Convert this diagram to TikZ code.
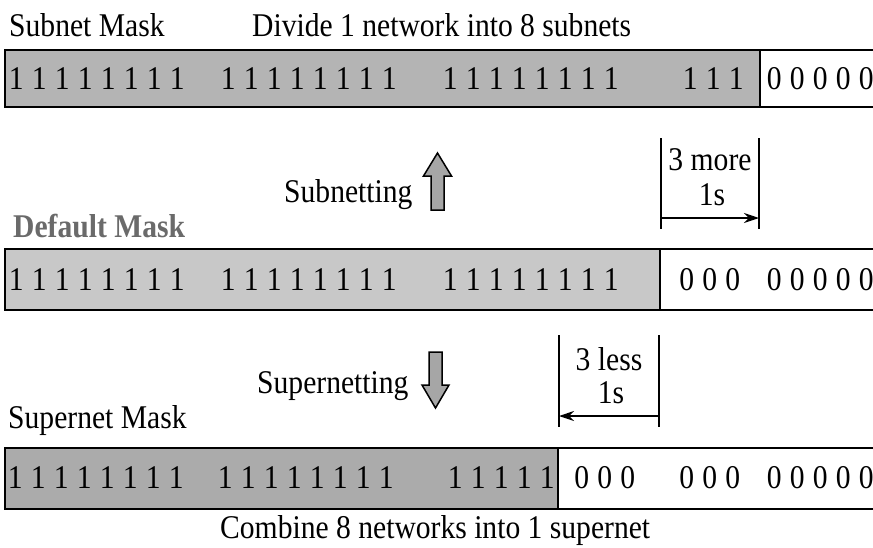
\documentclass[tikz,border=0pt]{standalone}
\usepackage{fontspec}
\setmainfont{Liberation Serif}
\usetikzlibrary{arrows.meta}
\definecolor{barA}{HTML}{B4B4B4}
\definecolor{barB}{HTML}{C8C8C8}
\definecolor{barC}{HTML}{ABABAB}
\definecolor{arrowfill}{HTML}{A6A6A6}
\definecolor{dimtext}{HTML}{6A6A6A}
\newcommand\vst[1]{\scalebox{1}[1.12]{#1}}
\newcommand\spreaddigits[1]{\spreadaux#1\relax}
\def\spreadaux#1{\ifx#1\relax\else\makebox[23pt]{#1}\expandafter\spreadaux\fi}
\newcommand\dgs[1]{\vst{\spreaddigits{#1}}}
\tikzset{
  txt/.style={font=\fontsize{29.6}{34}\selectfont, inner sep=0pt, anchor=base west},
  ctxt/.style={font=\fontsize{29.6}{34}\selectfont, inner sep=0pt, anchor=base},
  digs/.style={font=\fontsize{29.6}{34}\selectfont, inner sep=0pt, anchor=west},
  barline/.style={line width=1.6pt, black},
  brline/.style={line width=1.4pt, black},
  brarrow/.style={line width=1.3pt, black, -{Stealth[length=15pt,width=10pt]}},
  blockarrow/.style={fill=arrowfill, draw=black, line width=1.5pt, line join=miter}
}
\begin{document}
\begin{tikzpicture}[x=1pt,y=-1pt]
\useasboundingbox (0,0) rectangle (873,547);
\fill[white] (0,0) rectangle (873,547);
\clip (0,0) rectangle (873,547);

% ---------- Bar 1 : subnet mask ----------
\fill[barA] (5,50) rectangle (760,107);
\draw[barline] (880,50) -- (5,50) -- (5,107) -- (880,107);
\draw[barline] (760,50) -- (760,107);
\node[txt] (subnetmask) at (9,36) {\vst{Subnet Mask}};
\node[txt] (divide) at (252,36) {\vst{Divide 1 network into 8 subnets}};
\node[digs] (a1) at (4.5,79) {\dgs{11111111}};
\node[digs] (a2) at (216.5,79) {\dgs{11111111}};
\node[digs] (a3) at (438.5,79) {\dgs{11111111}};
\node[digs] (a4) at (678.5,79) {\dgs{111}};
\node[digs] (a5) at (762.5,79) {\dgs{00000}};

% ---------- Subnetting ----------
\node[txt] (subnetting) at (284,202) {\vst{Subnetting}};
\draw[blockarrow] (431,210) -- (431,176) -- (423.5,176) -- (437.5,153) -- (451.5,176) -- (444,176) -- (444,210) -- cycle;

\coordinate (m1t) at (661,138);
\coordinate (m1b) at (661,229);
\coordinate (m2t) at (759,138);
\coordinate (m2b) at (759,229);
\coordinate (m1a) at (661,218);
\coordinate (m2a) at (759,218);
\draw[brline] (m1t) -- (m1b);
\draw[brline] (m2t) -- (m2b);
\draw[brarrow] (m1a) -- (m2a);
\node[ctxt] (more) at (710,170) {\vst{3 more}};
\node[ctxt] (mores) at (712,205) {\vst{1s}};

% ---------- Bar 2 : default mask ----------
\node[txt, text=dimtext] (defaultmask) at (13,237) {\vst{\bfseries Default Mask}};
\fill[barB] (5,249) rectangle (660,310);
\draw[barline] (880,249) -- (5,249) -- (5,310) -- (880,310);
\draw[barline] (660,249) -- (660,310);
\node[digs] (b1) at (4.5,280) {\dgs{11111111}};
\node[digs] (b2) at (216.5,280) {\dgs{11111111}};
\node[digs] (b3) at (438.5,280) {\dgs{11111111}};
\node[digs] (b4) at (675,280) {\dgs{000}};
\node[digs] (b5) at (762.5,280) {\dgs{00000}};

% ---------- Supernetting ----------
\node[txt] (supernetting) at (257,393) {\vst{Supernetting}};
\draw[blockarrow] (429,352) -- (442,352) -- (442,385) -- (449,385) -- (435.5,408) -- (422,385) -- (429,385) -- cycle;

\coordinate (l1t) at (559,335);
\coordinate (l1b) at (559,427);
\coordinate (l2t) at (659,335);
\coordinate (l2b) at (659,427);
\coordinate (l1a) at (559,416);
\coordinate (l2a) at (659,416);
\draw[brline] (l1t) -- (l1b);
\draw[brline] (l2t) -- (l2b);
\draw[brarrow] (l2a) -- (l1a);
\node[ctxt] (less) at (609,370) {\vst{3 less}};
\node[ctxt] (lesss) at (611,403) {\vst{1s}};

% ---------- Bar 3 : supernet mask ----------
\node[txt] (supernetmask) at (8,428) {\vst{Supernet Mask}};
\fill[barC] (5,448) rectangle (558,509);
\draw[barline] (880,448) -- (5,448) -- (5,509) -- (880,509);
\draw[barline] (558,448) -- (558,509);
\node[digs] (c1) at (3.5,478) {\dgs{11111111}};
\node[digs] (c2) at (213.5,478) {\dgs{11111111}};
\node[digs] (c3) at (443.5,478) {\dgs{11111}};
\node[digs] (c4) at (570,478) {\dgs{000}};
\node[digs] (c5) at (675,478) {\dgs{000}};
\node[digs] (c6) at (762.5,478) {\dgs{00000}};

\node[txt] (combine) at (220,538) {\vst{Combine 8 networks into 1 supernet}};
\end{tikzpicture}
\end{document}
